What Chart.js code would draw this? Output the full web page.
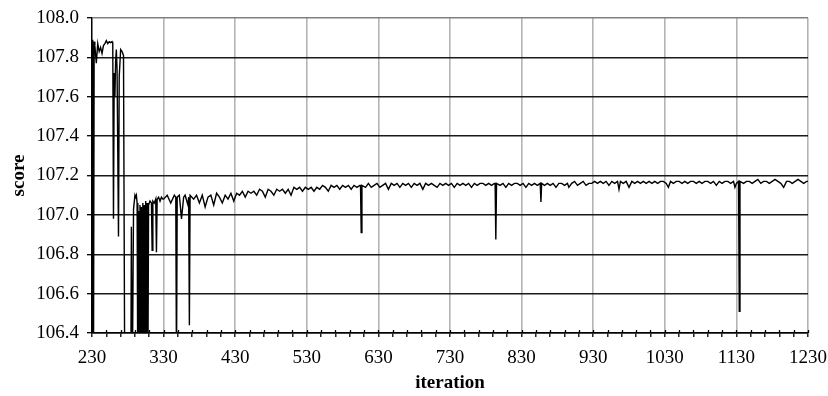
<!DOCTYPE html>
<html>
<head>
<meta charset="utf-8">
<script src="https://cdn.jsdelivr.net/npm/chart.js@4.4.0/dist/chart.umd.min.js"></script>
<style>
  body { margin: 0; background: #fff; }
  #wrap { width: 828px; height: 396px; }
</style>
</head>
<body>
<div id="wrap"><canvas id="myChart"></canvas></div>
<script>
// x axis range and tick spacing
var xMin = 230, xMax = 1230, xMinorStep = 20, xLabelStep = 100;
var yMin = 106.4, yMax = 108.0, yStep = 0.2;

// iteration numbers
var iterations = [
  230, 231, 232, 233, 234, 236, 238, 240, 242, 244, 246, 248, 250, 252, 254, 256, 258, 259,
  260, 261, 262, 263, 264, 265, 267, 268, 270, 272, 274, 276, 280, 284, 285, 286, 288, 290,
  291, 292, 293, 294, 295, 296, 297, 298, 299, 300, 301, 302, 303, 304, 305, 306, 307, 308,
  309, 311, 313, 314, 315, 317, 319, 320, 321, 323, 325, 327, 329,
  330, 335, 340, 345, 347, 348, 349, 352, 355, 358, 360, 364, 365, 366, 367, 372, 376, 380,
  384, 388, 392, 396, 400, 404, 408, 412, 416, 420, 424, 428, 432, 436, 440, 444, 448, 452,
  456, 460, 464, 468, 472, 476, 480, 484, 488, 492, 496, 500, 504, 508, 512, 516, 520, 524,
  528, 532, 536, 540, 544, 548, 552, 556, 560, 564, 568, 572, 576, 580, 584, 588, 592, 596,
  600, 604, 605, 606, 607, 612, 616, 620, 624, 628, 632, 636, 640, 644, 648, 652, 656, 660,
  664, 668, 672, 676, 680, 684, 688, 692, 696, 700, 704, 708, 712, 716, 720, 724, 728, 732,
  736, 740, 744, 748, 752, 756, 760, 764, 768, 772, 776, 780, 784, 788, 792, 793, 794, 795,
  800, 804, 808, 812, 816, 820, 824, 828, 832, 836, 840, 844, 848, 852, 856, 857, 858, 862,
  866, 870, 874, 878, 882, 886, 890, 894, 896, 900, 904, 908, 912, 916, 920, 924, 928, 932,
  936, 940, 944, 948, 952, 956, 960, 964, 966, 968, 972, 976, 980, 984, 988, 992, 996, 1000,
  1004, 1008, 1012, 1016, 1020, 1024, 1028, 1032, 1035, 1038, 1042, 1046, 1050, 1054, 1058, 1062,
  1066, 1070, 1074, 1078, 1082, 1086, 1090, 1094, 1098, 1102, 1106, 1110, 1114, 1118, 1122, 1126,
  1128, 1130, 1133, 1134, 1135, 1140, 1144, 1148, 1152, 1156, 1160, 1164, 1168, 1172, 1176, 1180,
  1184, 1188, 1192, 1196, 1200, 1204, 1208, 1212, 1216, 1220, 1224, 1228, 1230
];

// score at each iteration
var scores = [
  105.9, 107.89, 106.0, 107.88, 107.86, 107.77, 107.87, 107.83, 107.85, 107.82, 107.86, 107.87, 107.885, 107.87, 107.88, 107.875, 107.88, 107.87,
  106.98, 107.72, 107.60, 107.78, 107.84, 107.74, 106.89, 107.70, 107.84, 107.83, 107.81, 105.9, 105.8, 105.9, 106.94, 106.0, 107.03, 107.10,
  107.09, 107.10, 107.06, 106.1, 107.02, 106.0, 107.05, 106.2, 107.04, 105.9, 107.06, 106.1, 107.05, 106.0, 107.07, 106.2, 107.06, 106.1,
  107.05, 107.07, 107.06, 106.82, 107.07, 107.06, 107.08, 106.81, 107.08, 107.09, 107.07, 107.09, 107.08,
  107.08, 107.10, 107.06, 107.10, 107.09, 106.2, 107.09, 107.10, 106.98, 107.09, 107.10, 107.05, 107.09, 106.44, 107.10, 107.08, 107.10, 107.06,
  107.10, 107.04, 107.09, 107.10, 107.05, 107.11, 107.09, 107.06, 107.10, 107.08, 107.11, 107.07, 107.11, 107.10, 107.12, 107.09, 107.12, 107.11,
  107.12, 107.10, 107.13, 107.12, 107.09, 107.13, 107.12, 107.10, 107.13, 107.12, 107.13, 107.11, 107.13, 107.10, 107.14, 107.13, 107.14, 107.12,
  107.14, 107.13, 107.14, 107.12, 107.14, 107.13, 107.15, 107.14, 107.12, 107.15, 107.14, 107.15, 107.13, 107.15, 107.14, 107.15, 107.13, 107.15,
  107.14, 107.15, 107.15, 106.91, 107.15, 107.14, 107.16, 107.14, 107.15, 107.16, 107.14, 107.15, 107.16, 107.13, 107.16, 107.15, 107.16, 107.14,
  107.16, 107.15, 107.16, 107.14, 107.16, 107.15, 107.16, 107.13, 107.16, 107.15, 107.16, 107.15, 107.14, 107.16, 107.15, 107.16, 107.15, 107.16,
  107.14, 107.16, 107.15, 107.16, 107.15, 107.16, 107.14, 107.16, 107.15, 107.16, 107.16, 107.15, 107.16, 107.15, 107.16, 107.16, 106.875, 107.16,
  107.15, 107.16, 107.14, 107.16, 107.15, 107.16, 107.16, 107.15, 107.16, 107.14, 107.16, 107.15, 107.16, 107.15, 107.16, 107.066, 107.16, 107.15,
  107.16, 107.15, 107.16, 107.14, 107.16, 107.16, 107.15, 107.16, 107.14, 107.16, 107.17, 107.15, 107.16, 107.17, 107.15, 107.16, 107.16, 107.17,
  107.16, 107.17, 107.16, 107.17, 107.15, 107.17, 107.16, 107.17, 107.13, 107.17, 107.16, 107.17, 107.14, 107.17, 107.16, 107.17, 107.16, 107.17,
  107.16, 107.17, 107.16, 107.17, 107.16, 107.17, 107.17, 107.16, 107.14, 107.17, 107.16, 107.17, 107.17, 107.16, 107.17, 107.16,
  107.17, 107.17, 107.16, 107.17, 107.16, 107.17, 107.17, 107.16, 107.17, 107.15, 107.17, 107.16, 107.17, 107.17, 107.16, 107.17,
  107.14, 107.16, 107.17, 106.51, 107.17, 107.16, 107.17, 107.17, 107.16, 107.17, 107.18, 107.16, 107.17, 107.17, 107.16, 107.17,
  107.18, 107.17, 107.16, 107.14, 107.17, 107.17, 107.16, 107.17, 107.18, 107.17, 107.16, 107.17, 107.17
];

var points = iterations.map(function (it, i) { return { x: it, y: scores[i] }; });

// short tick marks crossing the x axis on the inside too
var innerTicks = {
  id: 'innerTicks',
  afterDraw: function (chart) {
    var xs = chart.scales.x, ctx = chart.ctx, bottom = chart.chartArea.bottom;
    ctx.save();
    ctx.strokeStyle = '#000';
    ctx.lineWidth = 1.3;
    xs.ticks.forEach(function (t) {
      var px = Math.round(xs.getPixelForValue(t.value)) + 0.5;
      ctx.beginPath();
      ctx.moveTo(px, bottom - 3);
      ctx.lineTo(px, bottom);
      ctx.stroke();
    });
    ctx.restore();
  }
};

var ctx = document.getElementById('myChart').getContext('2d');
var chart = new Chart(ctx, {
  type: 'line',
  data: {
    datasets: [{
      data: points,
      borderColor: '#000',
      borderWidth: 1.4,
      pointRadius: 0,
      tension: 0,
      fill: false
    }]
  },
  options: {
    responsive: true,
    maintainAspectRatio: false,
    animation: false,
    layout: { padding: { left: 0, right: 20, top: 18, bottom: 0 } },
    plugins: { legend: { display: false }, tooltip: { enabled: false } },
    scales: {
      x: {
        type: 'linear',
        min: xMin,
        max: xMax,
        afterBuildTicks: function (scale) {
          var t = [];
          for (var v = xMin; v <= xMax; v += xMinorStep) t.push({ value: v });
          scale.ticks = t;
        },
        afterFit: function (scale) {
          scale.height = 63;
          scale.paddingLeft = 0;
          scale.paddingRight = 0;
        },
        ticks: {
          autoSkip: false,
          maxRotation: 0,
          padding: 10,
          color: '#000',
          font: { family: 'Liberation Serif', size: 19 },
          callback: function (v) { return (v - xMin) % xLabelStep === 0 ? String(v) : ''; }
        },
        grid: {
          color: function (c) {
            return (c.tick && (c.tick.value - xMin) % xLabelStep === 0) ? '#b4b4b4' : 'rgba(0,0,0,0)';
          },
          lineWidth: 1.6,
          tickColor: '#000',
          tickLength: 4,
          tickWidth: 1.3
        },
        border: { color: '#000', width: 1.4 },
        title: {
          display: true,
          text: 'iteration',
          color: '#000',
          font: { family: 'Liberation Serif', size: 19, weight: 'bold' },
          padding: { top: 0, bottom: 2 }
        }
      },
      y: {
        min: yMin,
        max: yMax,
        afterFit: function (scale) {
          scale.width = 92;
          scale.paddingTop = 0;
          scale.paddingBottom = 0;
        },
        ticks: {
          stepSize: yStep,
          padding: 8,
          color: '#000',
          font: { family: 'Liberation Serif', size: 19 },
          callback: function (v) { return v.toFixed(1); }
        },
        grid: {
          color: function (c) {
            return (c.tick && Math.abs(c.tick.value - yMax) < 1e-6) ? '#808080' : '#1a1a1a';
          },
          lineWidth: 1.4,
          tickColor: '#000',
          tickLength: 5,
          tickWidth: 1.3
        },
        border: { color: '#000', width: 1.4 },
        title: {
          display: true,
          text: 'score',
          color: '#000',
          font: { family: 'Liberation Serif', size: 19, weight: 'bold' },
          padding: { top: 8, bottom: 0 }
        }
      }
    }
  },
  plugins: [innerTicks]
});
</script>
</body>
</html>
